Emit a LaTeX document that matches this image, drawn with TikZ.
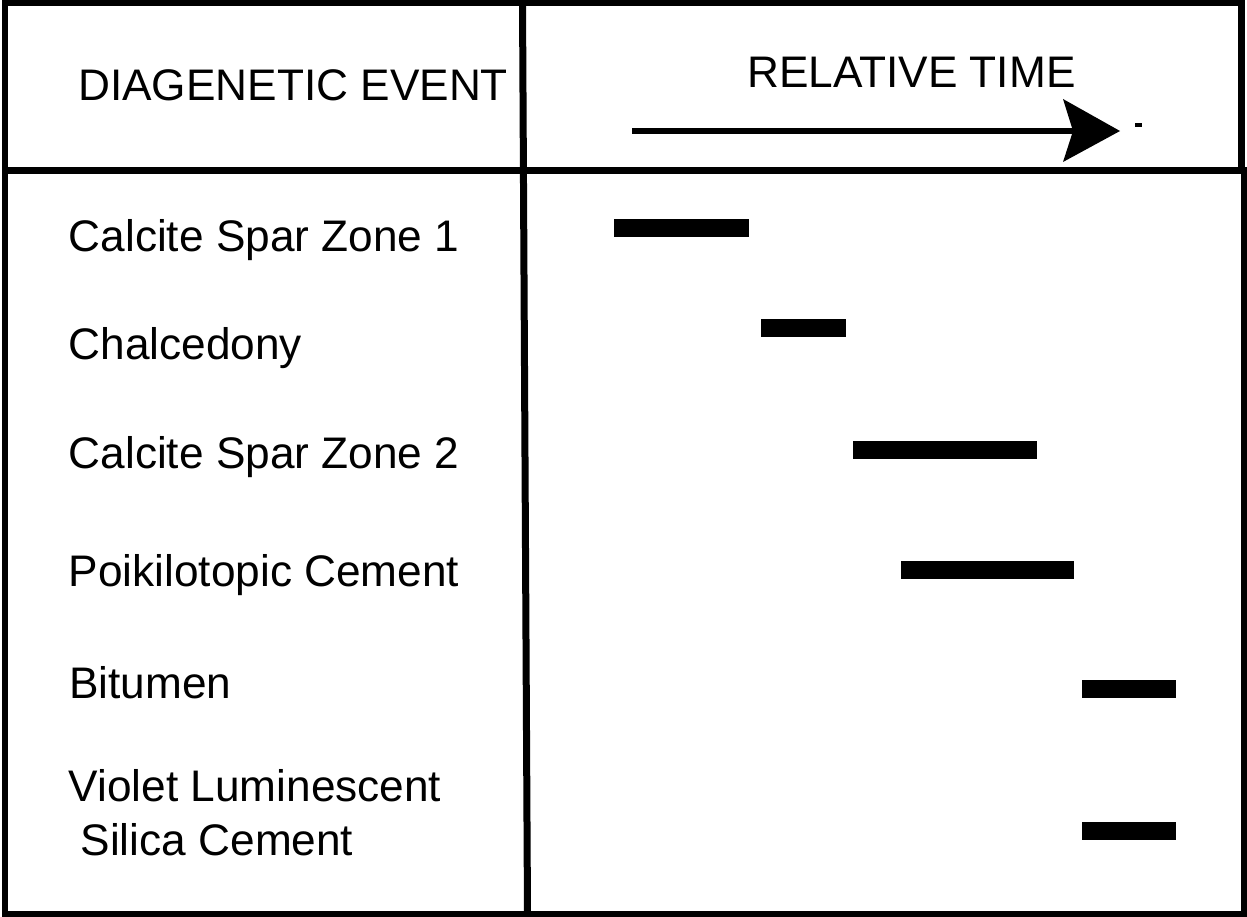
\documentclass[tikz,border=0pt]{standalone}
\usepackage{fontspec}
\setmainfont{Liberation Sans}
\begin{document}
\begin{tikzpicture}[x=1pt,y=-1pt,
  lbl/.style={anchor=base west,inner sep=0pt,font=\fontsize{44.2}{54}\selectfont,align=left},
  frameline/.style={line width=6.5pt,line cap=rect},
  divline/.style={line width=7pt,line cap=rect},
  bar/.style={fill=black,draw=none,inner sep=0pt,minimum height=18pt,anchor=center}]
\useasboundingbox (0,0) rectangle (1247,917);
\fill[white] (0,0) rectangle (1247,917);
% frame
\draw[frameline] (5,2.5) -- (1241.5,2.5) -- (1241.5,170.5);
\draw[frameline] (5,2.5) -- (5,914) -- (1244.5,914) -- (1244.5,170.5);
\draw[divline] (5,170.5) -- (1244.5,170.5);
\draw[divline] (522.5,2.5) -- (527.5,914);
% header texts
\node[lbl] (hdev) at (78,101) {DIAGENETIC EVENT};
\node[lbl] (hdtime) at (747,88) {RELATIVE TIME};
% time arrow
\coordinate (astart) at (632,131);
\coordinate (aend) at (1073,131);
\draw[line width=6pt] (astart) -- (aend);
\fill (1063,99) -- (1120,131) -- (1063,162) -- (aend) -- cycle;
\fill (1135,123) rectangle (1142,127);
% labels
\node[lbl] (l1) at (68.5,252) {Calcite Spar Zone 1};
\node[lbl] (l2) at (68.5,359) {Chalcedony};
\node[lbl] (l3) at (68.5,468) {Calcite Spar Zone 2};
\node[lbl] (l4) at (68.5,586) {Poikilotopic Cement};
\node[lbl] (l5) at (69,698) {Bitumen};
\node[lbl] (l6) at (68.5,855) {Violet Luminescent\\\hspace*{12pt}Silica Cement};
% bars
\node[bar,minimum width=135pt] (b1) at (681.5,228) {};
\node[bar,minimum width=85pt] (b2) at (803.5,328) {};
\node[bar,minimum width=184pt] (b3) at (945,450) {};
\node[bar,minimum width=173pt] (b4) at (987.5,570) {};
\node[bar,minimum width=94pt] (b5) at (1129,689) {};
\node[bar,minimum width=94pt] (b6) at (1129,831) {};
\end{tikzpicture}
\end{document}
